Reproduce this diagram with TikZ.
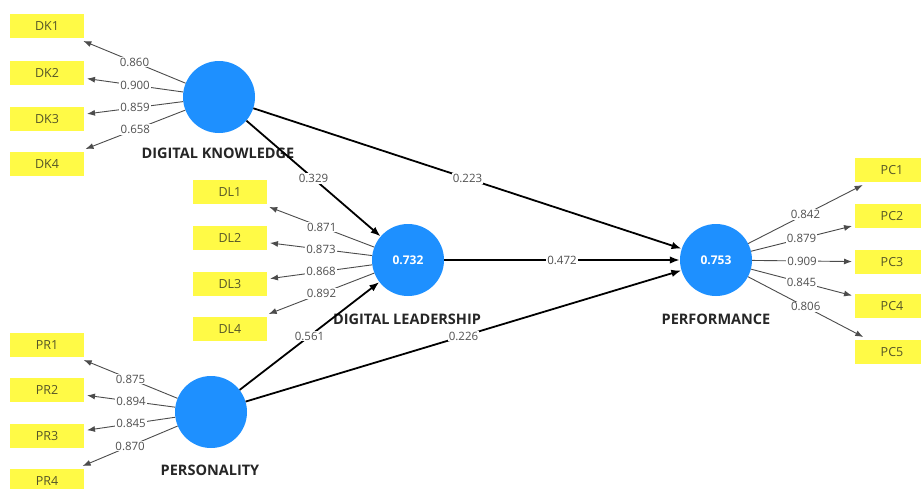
\documentclass[tikz,border=0pt]{standalone}
\usepackage{fontspec}
\setmainfont{Open Sans}
\usetikzlibrary{arrows.meta}
\definecolor{lvblue}{RGB}{30,144,255}
\definecolor{indyellow}{RGB}{255,250,70}
\definecolor{indtext}{RGB}{85,85,40}
\definecolor{valgray}{RGB}{80,80,80}
\begin{document}
\begin{tikzpicture}[x=1pt,y=-1pt,
 lv/.style={circle,fill=lvblue,minimum size=72pt,inner sep=0pt,text=white,font=\fontsize{12}{13}\selectfont\bfseries},
 ind/.style={rectangle,fill=indyellow,minimum width=74pt,minimum height=24pt,inner sep=0pt,outer sep=3pt,text=indtext,font=\fontsize{12.5}{13}\selectfont},
 lvlabel/.style={font=\fontsize{14.5}{15}\selectfont\bfseries,text=black!85},
 load/.style={draw=black!70,line width=0.9pt,-{Latex[length=8pt,width=6pt]}},
 structpath/.style={draw=black,line width=1.8pt,-{Latex[length=10pt,width=7.5pt]}},
 val/.style={fill=white,inner sep=1pt,font=\fontsize{11.5}{12}\selectfont,text=valgray,pos=0.5}
]
\useasboundingbox (0,0) rectangle (921,488);
\fill[white] (0,0) rectangle (921,488);

% latent variables
\node[lv] (DK) at (219,97) {};
\node[lv] (DL) at (408,260) {0.732};
\node[lv] (PR) at (211,412) {};
\node[lv] (PF) at (716,260) {0.753};

\node[lvlabel] (DKl) at (218,153) {DIGITAL KNOWLEDGE};
\node[lvlabel] (DLl) at (407,319) {DIGITAL LEADERSHIP};
\node[lvlabel] (PRl) at (210,470) {PERSONALITY};
\node[lvlabel] (PFl) at (716,319) {PERFORMANCE};

% indicators
\foreach \i/\y/\v in {1/26/0.860,2/73/0.900,3/119/0.859,4/164/0.658}{
  \node[ind] (DK\i) at (47,\y) {DK\i};
  \draw[load] (DK) -- node[val]{\v} (DK\i);
}
\foreach \i/\y/\v in {1/192/0.871,2/238/0.873,3/284/0.868,4/329/0.892}{
  \node[ind] (DL\i) at (230,\y) {DL\i};
  \draw[load] (DL) -- node[val]{\v} (DL\i);
}
\foreach \i/\y/\v in {1/345/0.875,2/390/0.894,3/436/0.845,4/481/0.870}{
  \node[ind] (PR\i) at (47,\y) {PR\i};
  \draw[load] (PR) -- node[val]{\v} (PR\i);
}
\foreach \i/\y/\v in {1/170/0.842,2/216/0.879,3/262/0.909,4/306/0.845,5/352/0.806}{
  \node[ind] (PC\i) at (892,\y) {PC\i};
  \draw[load] (PF) -- node[val]{\v} (PC\i);
}

% structural paths
\draw[structpath] (DK) -- node[val]{0.329} (DL);
\draw[structpath] (DK) -- node[val]{0.223} (PF);
\draw[structpath] (DL) -- node[val]{0.472} (PF);
\draw[structpath] (PR) -- node[val]{0.561} (DL);
\draw[structpath] (PR) -- node[val]{0.226} (PF);
\end{tikzpicture}
\end{document}
